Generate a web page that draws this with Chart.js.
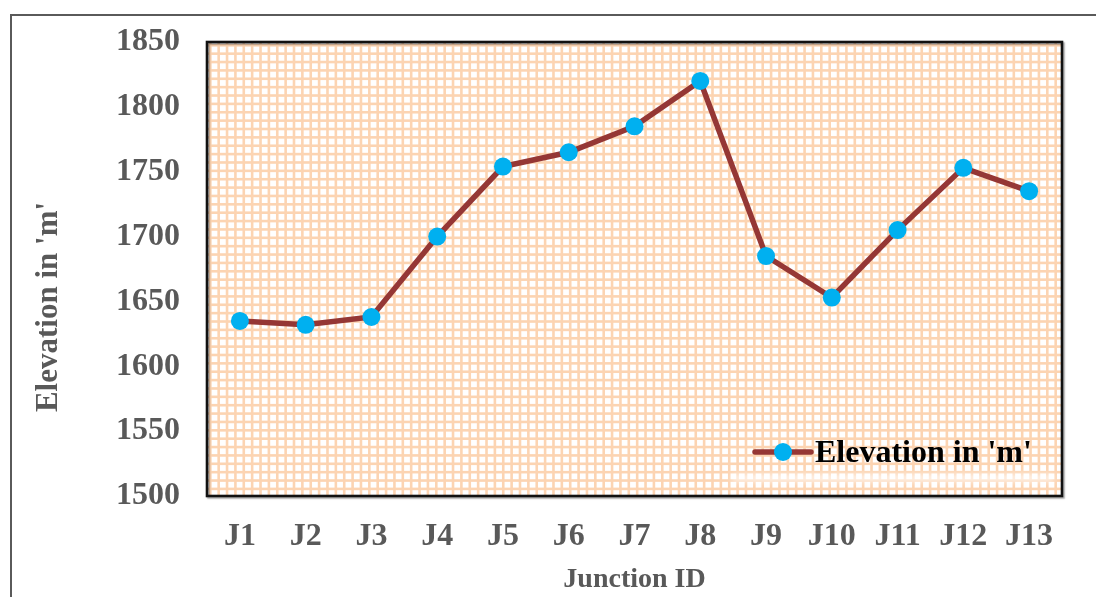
<!DOCTYPE html>
<html>
<head>
<meta charset="utf-8">
<script src="https://cdn.jsdelivr.net/npm/chart.js@4/dist/chart.umd.min.js"></script>
<style>
  html, body { margin: 0; padding: 0; background: #fff; overflow: hidden; }
  #frame { position: absolute; left: 10px; top: 14px; width: 1200px; height: 800px; border: 2px solid #5a5a5a; box-sizing: border-box; }
  #wrap { position: absolute; left: 0; top: 0; width: 1096px; height: 597px; }
</style>
</head>
<body>
<div id="frame"></div>
<div id="wrap"><canvas id="chart"></canvas></div>
<script>
// Junction labels and their ground elevations (m)
const junctions = ['J1','J2','J3','J4','J5','J6','J7','J8','J9','J10','J11','J12','J13'];
const elevations = [1635, 1632, 1638, 1700, 1754, 1765, 1785, 1820, 1685, 1653, 1705, 1753, 1735];
const yMin = 1500;
const yMax = 1850;
const yStep = 50;
const seriesLabel = "Elevation in 'm'";
const yTitle = "Elevation in 'm'";
const xTitle = 'Junction ID';

const FONT = "'Liberation Serif', 'Times New Roman', serif";
const GREY = '#595959';

// Peach grid-paper fill behind the plot, plus the frame around it
const plotBackground = {
  id: 'plotBackground',
  beforeDatasetsDraw(chart) {
    const {ctx, chartArea: a} = chart;
    ctx.save();
    ctx.fillStyle = '#ffffff';
    ctx.fillRect(a.left, a.top, a.width, a.height);
    ctx.fillStyle = '#fcd4b2';
    const step = 8.37, w = 2.6;
    for (let x = a.left + 2; x < a.right; x += step) ctx.fillRect(x, a.top, Math.min(w, a.right - x), a.height);
    for (let y = a.top + 2; y < a.bottom; y += step) ctx.fillRect(a.left, y, a.width, Math.min(w, a.bottom - y));
    // soft white band under the legend
    ctx.filter = 'blur(3px)';
    ctx.fillStyle = 'rgba(255,255,255,0.85)';
    ctx.fillRect(a.right - 330, a.bottom - 21, 322, 6);
    ctx.filter = 'none';
    // frame with a light shadow
    ctx.shadowColor = 'rgba(0,0,0,0.35)';
    ctx.shadowOffsetX = 1.5;
    ctx.shadowOffsetY = 1.5;
    ctx.shadowBlur = 1.5;
    ctx.strokeStyle = '#111111';
    ctx.lineWidth = 2.6;
    ctx.strokeRect(a.left, a.top, a.width, a.height);
    ctx.restore();
  },
  afterDraw(chart) {
    const {ctx} = chart;
    ctx.save();
    // vertical axis title
    ctx.translate(49, 307);
    ctx.rotate(-Math.PI / 2);
    ctx.font = 'bold 31px ' + FONT;
    ctx.fillStyle = GREY;
    ctx.textAlign = 'center';
    ctx.textBaseline = 'middle';
    ctx.fillText(yTitle, 0, 0);
    ctx.restore();

    // legend entry inside the plot, bottom right
    const ds = chart.data.datasets[0];
    ctx.save();
    const cy = 452, x0 = 755, x1 = 811;
    ctx.strokeStyle = ds.borderColor;
    ctx.lineWidth = ds.borderWidth;
    ctx.lineCap = 'round';
    ctx.beginPath();
    ctx.moveTo(x0, cy);
    ctx.lineTo(x1, cy);
    ctx.stroke();
    ctx.fillStyle = ds.pointBackgroundColor;
    ctx.beginPath();
    ctx.arc((x0 + x1) / 2, cy, ds.pointRadius, 0, Math.PI * 2);
    ctx.fill();
    ctx.font = 'bold 32px ' + FONT;
    ctx.fillStyle = '#000000';
    ctx.textAlign = 'left';
    ctx.textBaseline = 'middle';
    ctx.fillText(ds.label, 815, cy + 2);
    ctx.restore();
  }
};

new Chart(document.getElementById('chart'), {
  type: 'line',
  data: {
    labels: junctions,
    datasets: [{
      label: seriesLabel,
      data: elevations,
      borderColor: '#953735',
      borderWidth: 5.5,
      pointBackgroundColor: '#00b0f0',
      pointBorderColor: '#00b0f0',
      pointBorderWidth: 0,
      pointRadius: 9,
      tension: 0,
      clip: false
    }]
  },
  options: {
    responsive: true,
    maintainAspectRatio: false,
    animation: false,
    devicePixelRatio: 1,
    layout: { padding: { top: 42, right: 34, left: 0, bottom: 0 } },
    plugins: {
      legend: { display: false },
      tooltip: { enabled: false }
    },
    scales: {
      x: {
        type: 'category',
        offset: true,
        grid: { display: false, drawTicks: false },
        border: { display: false },
        ticks: {
          color: GREY,
          padding: 22,
          font: { family: FONT, size: 32, weight: 'bold' },
          maxRotation: 0,
          autoSkip: false
        },
        title: {
          display: true,
          text: xTitle,
          color: GREY,
          font: { family: FONT, size: 28, weight: 'bold' },
          padding: { top: 0, bottom: 0 }
        },
        afterFit(s) { s.height = 101; }
      },
      y: {
        min: yMin,
        max: yMax,
        grid: { display: false, drawTicks: false },
        border: { display: false },
        ticks: {
          stepSize: yStep,
          color: GREY,
          padding: 27,
          font: { family: FONT, size: 32, weight: 'bold', lineHeight: 0.7 },
          callback: (v) => String(v)
        },
        afterFit(s) { s.width = 207; }
      }
    }
  },
  plugins: [plotBackground]
});
</script>
</body>
</html>
